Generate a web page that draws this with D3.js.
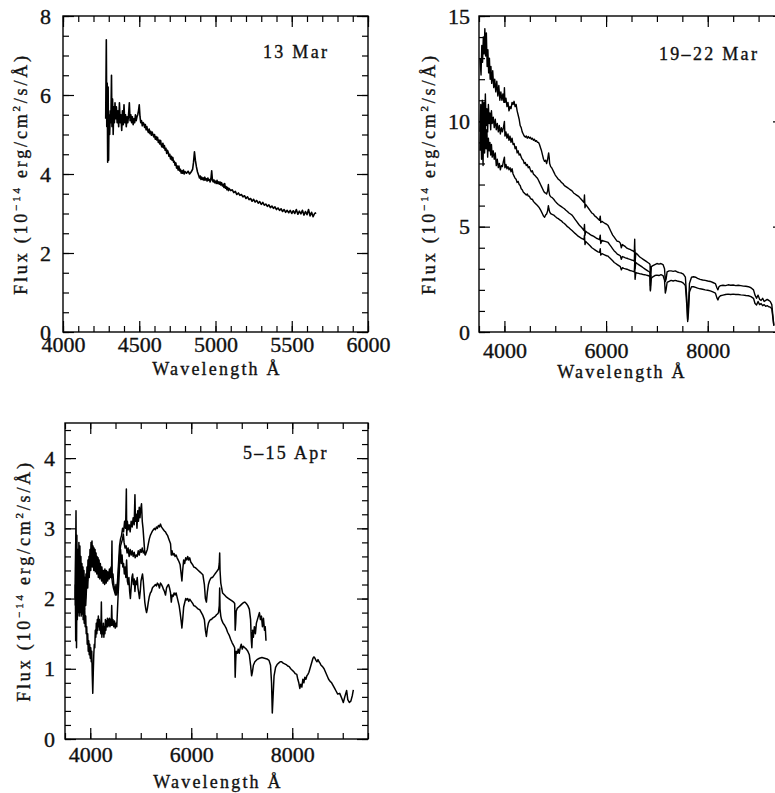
<!DOCTYPE html>
<html>
<head>
<meta charset="utf-8">
<script src="https://cdn.jsdelivr.net/npm/d3@7"></script>
<style>
html, body { margin: 0; padding: 0; background: #fff; }
svg { display: block; }
text { font-family: "Liberation Serif", "Times New Roman", serif; fill: #111; stroke: #111; stroke-width: 0.35px; }
</style>
</head>
<body>
<svg id="chart" width="775" height="793"></svg>
<script>
// spectra: [wavelength (Å), flux (1e-14 erg/cm2/s/Å)]

// 13 Mar
const mar13 = [
  [4280,5.4],[4284,7.4],[4287,5.2],[4290,6.3],[4293,4.3],[4296,6.2],[4299,4.35],[4302,5.5],[4306,5.0],[4310,5.6],
  [4314,5.3],[4318,6.5],[4321,5.2],[4325,5.9],[4329,5.0],[4333,5.7],[4337,5.3],[4341,5.8],[4345,5.4],[4350,5.7],
  [4355,5.3],[4360,5.6],[4365,5.2],[4370,5.8],[4375,5.3],[4380,5.5],[4385,5.1],[4390,5.6],[4395,5.25],[4400,5.75],
  [4405,5.3],[4410,5.5],[4415,5.2],[4420,5.45],[4425,5.3],[4430,5.5],[4435,5.8],[4440,5.35],[4445,5.5],[4450,5.3],
  [4455,5.45],[4460,5.25],[4465,5.4],[4470,5.3],[4475,5.5],[4480,5.35],[4485,5.45],[4490,5.5],[4495,5.6],[4500,5.75],
  [4505,5.45],[4510,5.3],[4515,5.35],[4520,5.22],[4525,5.3],[4530,5.28],[4535,5.18],[4540,5.25],[4545,5.12],[4550,5.2],
  [4555,5.1],[4560,5.05],[4565,5.14],[4570,5.02],[4575,5.08],[4580,4.98],[4585,5.06],[4590,5.0],[4595,4.94],[4600,5.0],
  [4605,4.88],[4610,4.95],[4615,4.86],[4620,4.93],[4625,4.8],[4630,4.86],[4635,4.76],[4640,4.85],[4645,4.72],[4650,4.68],
  [4655,4.78],[4660,4.66],[4665,4.72],[4670,4.6],[4675,4.65],[4680,4.52],[4685,4.6],[4690,4.55],[4695,4.45],[4700,4.5],
  [4705,4.38],[4710,4.45],[4715,4.35],[4720,4.42],[4725,4.3],[4730,4.32],[4735,4.22],[4740,4.28],[4745,4.15],[4750,4.2],
  [4755,4.1],[4760,4.2],[4765,4.08],[4770,4.12],[4775,4.02],[4780,4.08],[4785,4.02],[4790,4.1],[4795,4.0],[4800,4.06],
  [4810,4.02],[4820,4.07],[4830,4.0],[4840,4.05],[4850,4.12],[4856,4.3],[4862,4.56],[4868,4.35],[4875,4.18],[4882,4.05],
  [4890,3.96],[4895,3.9],[4900,3.95],[4905,3.86],[4910,3.92],[4915,3.86],[4920,3.9],[4925,3.84],[4930,3.92],[4935,3.85],
  [4940,3.88],[4945,3.82],[4950,3.9],[4955,3.84],[4960,3.86],[4965,3.8],[4970,3.88],[4975,4.08],[4980,3.84],[4985,3.8],
  [4990,3.85],[4995,3.78],[5000,3.82],[5005,3.76],[5010,3.84],[5015,3.76],[5020,3.8],[5025,3.74],[5030,3.8],[5035,3.72],
  [5040,3.78],[5045,3.7],[5050,3.74],[5055,3.66],[5060,3.76],[5065,3.64],[5070,3.68],[5075,3.6],[5080,3.66],[5085,3.58],
  [5090,3.63],[5100,3.58],[5110,3.6],[5120,3.53],[5130,3.56],[5140,3.48],[5150,3.52],[5160,3.46],[5170,3.48],[5180,3.42],
  [5190,3.45],[5200,3.38],[5210,3.42],[5220,3.35],[5230,3.38],[5240,3.31],[5250,3.36],[5260,3.29],[5270,3.33],[5280,3.26],
  [5290,3.3],[5300,3.23],[5310,3.28],[5320,3.21],[5330,3.24],[5340,3.18],[5350,3.22],[5360,3.15],[5370,3.19],[5380,3.13],
  [5390,3.17],[5400,3.1],[5410,3.14],[5420,3.08],[5430,3.12],[5440,3.05],[5450,3.1],[5460,3.03],[5470,3.08],[5480,3.02],
  [5490,3.08],[5500,3.0],[5510,3.07],[5520,3.0],[5530,3.1],[5540,2.98],[5550,3.06],[5560,2.99],[5570,3.08],[5580,2.96],
  [5590,3.05],[5600,2.97],[5610,3.1],[5620,2.94],[5630,3.03],[5640,2.92],[5650,3.0],[5660,3.02]
];

// 19-22 Mar (three spectra)
const mar19a = [
  [3520,13.0],[3540,12.2],[3555,13.6],[3570,12.8],[3585,14.0],[3600,13.2],[3615,14.4],[3630,13.1],[3645,14.2],[3660,12.6],
  [3675,13.4],[3690,12.3],[3705,13.0],[3720,12.0],[3735,12.6],[3750,11.8],[3770,12.4],[3790,11.6],[3810,12.0],[3830,11.4],
  [3850,11.9],[3870,11.2],[3890,11.7],[3910,11.0],[3930,11.4],[3950,11.0],[3970,11.3],[3990,10.9],[4000,11.6],[4010,10.9],
  [4030,11.1],[4050,10.7],[4070,10.9],[4090,10.5],[4110,10.7],[4130,10.6],[4150,10.9],[4170,10.8],[4190,10.95],[4210,10.7],
  [4230,10.8],[4250,10.5],[4270,10.3],[4290,10.1],[4310,9.8],[4330,9.7],[4350,9.5],[4370,9.4],[4390,9.3],[4410,9.25],
  [4430,9.3],[4450,9.2],[4470,9.28],[4490,9.2],[4510,9.25],[4530,9.15],[4550,9.2],[4570,9.1],[4590,9.15],[4610,9.05],
  [4630,9.08],[4650,9.0],[4670,9.0],[4690,8.9],[4710,8.75],[4730,8.6],[4750,8.4],[4770,8.2],[4790,8.1],[4810,8.15],
  [4830,8.0],[4850,8.2],[4870,8.5],[4880,8.3],[4890,8.0],[4910,7.85],[4930,7.8],[4950,7.7],[4970,7.6],[5000,7.45],
  [5030,7.35],[5060,7.25],[5090,7.2],[5120,7.1],[5150,7.05],[5180,6.95],[5210,6.9],[5240,6.85],[5270,6.8],[5300,6.75],
  [5330,6.7],[5360,6.6],[5390,6.55],[5420,6.5],[5450,6.45],[5480,6.38],[5510,6.3],[5540,6.22],[5565,6.15],[5575,6.5],
  [5585,5.9],[5600,6.05],[5630,5.95],[5660,5.85],[5690,5.75],[5720,5.65],[5750,5.6],[5780,5.5],[5810,5.45],[5840,5.38],
  [5870,5.3],[5885,5.5],[5895,5.2],[5920,5.25],[5950,5.2],[5980,5.15],[6010,5.12],[6040,5.05],[6070,4.9],[6100,4.75],
  [6130,4.6],[6160,4.5],[6190,4.4],[6220,4.3],[6250,4.3],[6280,4.22],[6300,4.0],[6320,4.15],[6350,4.1],[6380,4.05],
  [6410,3.98],[6440,3.95],[6470,3.92],[6500,3.88],[6530,3.85],[6555,3.8],[6563,4.4],[6570,3.3],[6585,3.75],[6610,3.7],
  [6640,3.62],[6670,3.55],[6700,3.5],[6730,3.45],[6760,3.4],[6790,3.35],[6820,3.3],[6850,3.25],[6865,3.2],[6872,2.0],
  [6880,2.6],[6890,3.1],[6920,3.15],[6960,3.2],[7000,3.25],[7040,3.22],[7080,3.25],[7120,3.2],[7150,3.0],[7165,2.4],
  [7180,2.5],[7200,2.85],[7240,2.9],[7280,2.9],[7320,2.88],[7360,2.9],[7400,2.85],[7440,2.82],[7480,2.8],[7520,2.75],
  [7560,2.6],[7590,1.5],[7605,0.6],[7620,1.2],[7640,2.3],[7680,2.6],[7720,2.62],[7760,2.6],[7800,2.55],[7850,2.5],
  [7900,2.47],[7950,2.45],[8000,2.42],[8050,2.4],[8100,2.35],[8150,2.3],[8180,2.1],[8200,2.0],[8220,2.15],[8250,2.2],
  [8300,2.22],[8350,2.2],[8400,2.24],[8450,2.22],[8500,2.23],[8550,2.2],[8600,2.22],[8650,2.2],[8700,2.18],[8750,2.17],
  [8800,2.15],[8850,2.1],[8900,2.0],[8930,1.75],[8960,1.6],[8990,1.75],[9020,1.55],[9050,1.5],[9080,1.6],[9110,1.45],
  [9140,1.5],[9170,1.55],[9200,1.5],[9230,1.45],[9260,1.3],[9280,0.8],[9300,0.3]
];
const mar19b = [
  [3520,9.5],[3535,10.8],[3550,9.2],[3565,11.0],[3580,9.6],[3595,10.9],[3610,9.4],[3625,11.3],[3640,9.8],[3655,10.6],
  [3670,9.5],[3685,10.8],[3700,9.9],[3715,10.4],[3730,9.6],[3745,10.5],[3760,9.9],[3780,10.2],[3800,9.7],[3820,10.1],
  [3840,9.6],[3860,9.9],[3880,9.5],[3900,9.8],[3920,9.4],[3940,9.7],[3960,9.5],[3980,9.7],[4000,10.0],[4010,9.3],
  [4030,9.5],[4050,9.2],[4070,9.4],[4090,9.1],[4110,9.3],[4130,9.0],[4150,9.2],[4170,8.9],[4190,8.95],[4210,8.7],
  [4230,8.8],[4250,8.5],[4270,8.6],[4290,8.4],[4310,8.45],[4330,8.3],[4350,8.2],[4370,8.15],[4390,8.0],[4410,8.05],
  [4430,7.9],[4450,7.95],[4470,7.8],[4490,7.85],[4510,7.7],[4530,7.6],[4550,7.65],[4570,7.5],[4590,7.45],[4610,7.4],
  [4630,7.35],[4650,7.3],[4670,7.2],[4690,7.1],[4710,7.0],[4730,6.9],[4750,6.8],[4770,6.7],[4790,6.62],[4810,6.6],
  [4830,6.55],[4850,6.7],[4865,7.0],[4875,6.7],[4890,6.5],[4910,6.42],[4940,6.38],[4970,6.3],[5000,6.2],[5030,6.12],
  [5060,6.05],[5090,6.0],[5120,5.95],[5150,5.9],[5180,5.85],[5210,5.78],[5240,5.72],[5270,5.65],[5300,5.6],[5330,5.55],
  [5360,5.45],[5390,5.35],[5420,5.25],[5450,5.15],[5480,5.05],[5510,4.98],[5540,4.9],[5565,4.82],[5575,5.1],[5585,4.6],
  [5600,4.78],[5630,4.72],[5660,4.68],[5690,4.62],[5720,4.58],[5750,4.55],[5780,4.5],[5810,4.45],[5840,4.42],[5870,4.38],
  [5885,4.6],[5895,4.2],[5920,4.35],[5950,4.32],[5980,4.3],[6010,4.28],[6040,4.25],[6070,4.15],[6100,4.05],[6130,3.95],
  [6160,3.85],[6190,3.78],[6220,3.7],[6250,3.66],[6280,3.62],[6300,3.45],[6320,3.58],[6350,3.55],[6380,3.52],[6410,3.5],
  [6440,3.47],[6470,3.45],[6500,3.42],[6530,3.4],[6555,3.37],[6563,3.9],[6570,3.0],[6585,3.3],[6610,3.25],[6640,3.2],
  [6670,3.15],[6700,3.1],[6730,3.05],[6760,3.0],[6790,2.95],[6820,2.9],[6850,2.86],[6865,2.8],[6872,2.2],[6880,2.7]
];
const mar19c = [
  [3520,8.6],[3535,10.0],[3550,8.2],[3565,9.6],[3580,7.9],[3595,10.4],[3610,8.5],[3625,9.8],[3640,8.7],[3655,9.6],
  [3670,8.3],[3685,9.2],[3700,8.6],[3715,9.0],[3730,8.4],[3745,8.9],[3760,8.3],[3780,8.6],[3800,8.2],[3820,8.5],
  [3840,7.9],[3860,8.2],[3880,7.8],[3900,8.0],[3920,7.7],[3940,7.9],[3960,7.85],[3980,8.1],[4000,8.3],[4010,7.8],
  [4030,7.95],[4050,7.75],[4070,7.85],[4090,7.7],[4110,7.8],[4130,7.6],[4150,7.75],[4170,7.5],[4190,7.4],[4210,7.3],
  [4230,7.25],[4250,7.1],[4270,7.15],[4290,7.0],[4310,6.95],[4330,6.8],[4350,6.75],[4370,6.65],[4390,6.6],[4410,6.55],
  [4430,6.5],[4450,6.55],[4470,6.45],[4490,6.45],[4510,6.35],[4530,6.3],[4550,6.3],[4570,6.2],[4590,6.15],[4610,6.1],
  [4630,6.05],[4650,6.0],[4670,5.95],[4690,5.88],[4710,5.8],[4730,5.7],[4750,5.6],[4770,5.5],[4790,5.45],[4810,5.55],
  [4830,5.6],[4850,5.75],[4865,6.0],[4875,5.85],[4890,5.7],[4910,5.62],[4940,5.58],[4970,5.55],[5000,5.48],[5030,5.42],
  [5060,5.38],[5090,5.32],[5120,5.28],[5150,5.2],[5180,5.15],[5210,5.08],[5240,5.0],[5270,4.95],[5300,4.88],[5330,4.82],
  [5360,4.75],[5390,4.68],[5420,4.62],[5450,4.55],[5480,4.5],[5510,4.45],[5540,4.42],[5565,4.38],[5575,4.6],[5585,4.15],
  [5600,4.3],[5630,4.22],[5660,4.15],[5690,4.08],[5720,4.0],[5750,3.95],[5780,3.9],[5810,3.85],[5840,3.8],[5870,3.78],
  [5885,3.95],[5895,3.65],[5920,3.72],[5950,3.68],[5980,3.65],[6010,3.62],[6040,3.6],[6070,3.52],[6100,3.45],[6130,3.38],
  [6160,3.3],[6190,3.25],[6220,3.2],[6250,3.15],[6280,3.1],[6300,2.95],[6320,3.05],[6350,3.02],[6380,3.0],[6410,2.98],
  [6440,2.95],[6470,2.92],[6500,2.9],[6530,2.88],[6555,2.85],[6563,3.3],[6570,2.5],[6585,2.82],[6610,2.8],[6640,2.78],
  [6670,2.76],[6700,2.75],[6730,2.73],[6760,2.72],[6790,2.7],[6820,2.68],[6850,2.66],[6865,2.62],[6872,1.95],[6880,2.3],
  [6890,2.55],[6920,2.62],[6960,2.68],[7000,2.7],[7040,2.68],[7080,2.72],[7120,2.68],[7150,2.45],[7165,1.85],[7180,2.0],
  [7200,2.35],[7240,2.4],[7280,2.45],[7320,2.42],[7360,2.45],[7400,2.42],[7440,2.4],[7480,2.38],[7520,2.32],[7560,2.2],
  [7590,1.2],[7605,0.5],[7620,0.9],[7640,1.9],[7680,2.15],[7720,2.15],[7760,2.12],[7800,2.08],[7850,2.05],[7900,2.03],
  [7950,2.0],[8000,1.98],[8050,1.95],[8100,1.9],[8150,1.85],[8180,1.62],[8200,1.52],[8220,1.65],[8250,1.72],[8300,1.75],
  [8350,1.78],[8400,1.8],[8450,1.78],[8500,1.8],[8550,1.78],[8600,1.78],[8650,1.76],[8700,1.75],[8750,1.73],[8800,1.72],
  [8850,1.68],[8900,1.6],[8930,1.35],[8960,1.28],[8990,1.45],[9020,1.3],[9050,1.35],[9080,1.25],[9110,1.3],[9140,1.22],
  [9170,1.25],[9200,1.2],[9230,1.18],[9260,1.1],[9280,0.7],[9300,0.3]
];

// 5-15 Apr (three spectra)
const apr5a = [
  [3700,2.0],[3710,2.6],[3718,3.25],[3725,2.2],[3735,2.9],[3745,1.9],[3755,2.7],[3765,2.0],[3775,2.8],[3785,2.1],
  [3795,2.75],[3805,2.2],[3815,2.6],[3825,2.05],[3835,2.5],[3845,2.1],[3855,2.45],[3865,1.95],[3875,2.4],[3885,2.1],
  [3895,2.3],[3905,2.0],[3915,2.35],[3925,2.2],[3935,2.45],[3945,2.25],[3955,2.55],[3965,2.3],[3975,2.6],[3985,2.4],
  [3995,2.7],[4005,2.45],[4015,2.8],[4025,2.5],[4035,2.82],[4045,2.55],[4055,2.75],[4065,2.5],[4075,2.72],[4085,2.48],
  [4095,2.7],[4105,2.45],[4115,2.65],[4125,2.42],[4135,2.6],[4145,2.4],[4155,2.58],[4165,2.38],[4175,2.55],[4185,2.35],
  [4200,2.5],[4215,2.3],[4230,2.45],[4245,2.32],[4260,2.4],[4275,2.3],[4290,2.42],[4305,2.28],[4320,2.4],[4335,2.3],
  [4350,2.38],[4365,2.32],[4380,2.42],[4395,2.35],[4410,2.45],[4420,2.3],[4430,2.82],[4435,2.3],[4450,2.35],[4465,2.2],
  [4480,2.15],[4495,2.1],[4510,2.2],[4525,2.05],[4540,2.1],[4555,2.3],[4570,2.55],[4585,2.65],[4600,2.75],[4620,2.8],
  [4640,2.85],[4655,2.92],[4670,2.8],[4690,2.72],[4710,2.75],[4730,2.65],[4750,2.72],[4770,2.6],[4790,2.7],[4810,2.62],
  [4830,2.68],[4850,2.6],[4870,2.66],[4890,2.58],[4910,2.62],[4930,2.6],[4950,2.68],[4970,2.62],[4990,2.7],[5010,2.66],
  [5030,2.72],[5050,2.65],[5070,2.68],[5090,2.62],[5110,2.66],[5130,2.7],[5150,2.78],[5170,2.85],[5190,2.9],[5210,2.93],
  [5230,2.96],[5250,2.98],[5270,3.0],[5290,2.98],[5310,3.02],[5330,3.0],[5350,3.04],[5370,3.02],[5390,3.06],[5410,3.02],
  [5430,3.0],[5450,2.98],[5470,2.96],[5490,2.95],[5510,2.92],[5530,2.9],[5550,2.86],[5570,2.82],[5590,2.78],[5605,2.62],
  [5620,2.68],[5640,2.62],[5660,2.64],[5680,2.6],[5700,2.62],[5720,2.58],[5740,2.55],[5760,2.52],[5780,2.48],[5800,2.35],
  [5815,2.25],[5830,2.4],[5850,2.55],[5870,2.5],[5890,2.58],[5910,2.55],[5930,2.6],[5950,2.55],[5970,2.58],[5990,2.52],
  [6010,2.5],[6030,2.48],[6050,2.45],[6080,2.44],[6110,2.42],[6140,2.4],[6170,2.38],[6200,2.36],[6230,2.34],[6260,2.2],
  [6280,2.0],[6300,1.95],[6320,2.1],[6340,2.2],[6360,2.25],[6380,2.28],[6400,2.3],[6420,2.3],[6440,2.32],[6460,2.34],
  [6480,2.36],[6500,2.38],[6520,2.4],[6540,2.42],[6555,2.5],[6563,2.65],[6570,2.4],[6585,2.22],[6620,2.08],[6660,2.05],
  [6700,2.02],[6740,2.0],[6800,1.97],[6840,1.95],[6860,1.93],[6870,1.55],[6880,1.65],[6890,1.82],[6910,1.86],[6940,1.88],
  [6970,1.9],[7000,1.92],[7030,1.94],[7060,1.95],[7090,1.93],[7120,1.9],[7150,1.85],[7175,1.7],[7190,1.4],[7200,1.3],
  [7215,1.55],[7230,1.45],[7250,1.6],[7270,1.5],[7290,1.65],[7310,1.7],[7330,1.75],[7350,1.8],[7370,1.7],[7390,1.75],
  [7410,1.6],[7430,1.72],[7450,1.55],[7465,1.6],[7480,1.4]
];
const apr5b = [
  [3705,1.9],[3712,2.8],[3720,1.5],[3728,2.5],[3736,1.75],[3744,2.6],[3752,1.8],[3760,2.45],[3770,1.9],[3780,2.4],
  [3790,1.85],[3800,2.3],[3810,1.95],[3820,2.35],[3830,1.9],[3840,2.2],[3850,1.8],[3860,2.25],[3870,1.9],[3880,2.15],
  [3890,1.85],[3900,2.1],[3910,1.9],[3920,2.05],[3935,2.3],[3950,2.15],[3965,2.45],[3980,2.3],[3995,2.6],[4010,2.4],
  [4025,2.7],[4040,2.45],[4055,2.68],[4070,2.4],[4085,2.62],[4100,2.38],[4115,2.58],[4130,2.35],[4145,2.52],[4160,2.3],
  [4175,2.5],[4190,2.28],[4210,2.45],[4225,2.25],[4240,2.4],[4255,2.22],[4270,2.36],[4285,2.2],[4300,2.35],[4315,2.22],
  [4330,2.32],[4345,2.25],[4360,2.34],[4375,2.28],[4390,2.38],[4405,2.3],[4420,2.35],[4440,2.22],[4460,2.15],[4480,2.1],
  [4500,2.05],[4520,2.1],[4540,2.25],[4560,2.5],[4580,2.75],[4600,2.85],[4620,2.9],[4640,3.0],[4660,2.95],[4680,3.1],
  [4700,3.0],[4715,3.56],[4722,2.9],[4735,3.1],[4750,2.98],[4770,3.05],[4790,2.95],[4810,3.1],[4830,3.02],[4850,3.15],
  [4870,3.05],[4885,3.48],[4895,3.1],[4910,3.2],[4925,3.0],[4940,3.25],[4955,3.1],[4970,3.3],[4985,3.15],[5000,3.28],
  [5015,3.35],[5030,3.1],[5045,3.0],[5060,2.85],[5075,2.7],[5090,2.62]
];
const apr5c = [
  [3705,2.2],[3712,1.4],[3720,2.4],[3728,1.3],[3736,2.1],[3744,1.7],[3752,2.3],[3760,1.8],[3770,2.2],[3780,1.75],
  [3790,2.1],[3800,1.8],[3810,2.05],[3820,1.75],[3830,2.0],[3840,1.78],[3850,1.95],[3860,1.7],[3870,1.9],[3880,1.65],
  [3890,1.85],[3900,1.6],[3910,1.75],[3920,1.5],[3930,1.6],[3940,1.35],[3950,1.5],[3960,1.25],[3970,1.4],[3980,1.2],
  [3990,1.35],[4000,1.15],[4010,1.3],[4020,1.1],[4030,1.25],[4040,0.9],[4050,0.65],[4060,0.95],[4070,1.2],[4080,1.35],
  [4090,1.3],[4100,1.55],[4110,1.45],[4120,1.65],[4130,1.5],[4140,1.7],[4150,1.55],[4160,1.75],[4170,1.6],[4180,1.7],
  [4190,1.55],[4200,1.65],[4210,1.5],[4220,1.95],[4230,1.45],[4240,1.6],[4250,1.5],[4260,1.65],[4270,1.45],[4280,1.6],
  [4290,1.5],[4300,1.7],[4310,1.55],[4320,1.68],[4330,1.6],[4340,1.72],[4350,1.6],[4360,1.7],[4370,1.62],[4380,1.72],
  [4390,1.6],[4400,1.7],[4415,1.62],[4425,1.9],[4435,1.62],[4450,1.7],[4465,1.6],[4480,1.68],[4495,1.58],[4510,1.65],
  [4525,1.6],[4540,1.85],[4555,2.1],[4570,2.3],[4585,2.55],[4600,2.7],[4615,2.5],[4630,2.62],[4645,2.45],[4660,2.5],
  [4675,2.35],[4690,2.45],[4705,2.3],[4720,2.55],[4735,2.25],[4750,2.2],[4765,2.3],[4780,2.1],[4795,2.0],[4810,2.15],
  [4825,2.3],[4840,2.35],[4855,2.2],[4870,2.28],[4885,2.1],[4900,2.25],[4915,2.2],[4930,2.3],[4945,2.15],[4960,2.08],
  [4975,2.0],[4990,2.1],[5005,2.25],[5020,2.3],[5035,2.35],[5050,2.25],[5065,2.1],[5080,1.95],[5100,1.85],[5115,1.8],
  [5130,1.85],[5150,1.95],[5170,2.03],[5190,2.08],[5210,2.1],[5230,2.15],[5250,2.17],[5270,2.18],[5290,2.2],[5310,2.18],
  [5330,2.22],[5350,2.2],[5370,2.15],[5390,2.22],[5410,2.2],[5430,2.17],[5450,2.13],[5470,2.1],[5490,2.05],[5510,2.15],
  [5530,2.18],[5550,2.2],[5570,2.15],[5590,2.08],[5605,1.95],[5620,2.05],[5640,2.03],[5660,2.08],[5680,2.05],[5700,2.08],
  [5720,2.02],[5740,1.96],[5760,1.9],[5780,1.8],[5800,1.68],[5815,1.58],[5830,1.7],[5850,1.88],[5870,1.94],[5890,2.0],
  [5910,1.98],[5930,2.0],[5950,1.96],[5970,1.99],[5990,1.97],[6010,1.95],[6030,1.93],[6050,1.9],[6080,1.89],[6110,1.87],
  [6140,1.85],[6170,1.84],[6200,1.8],[6230,1.76],[6260,1.7],[6280,1.55],[6300,1.46],[6320,1.58],[6340,1.65],[6360,1.68],
  [6380,1.7],[6400,1.7],[6420,1.72],[6440,1.73],[6460,1.74],[6480,1.75],[6500,1.77],[6520,1.78],[6540,1.8],[6555,1.9],
  [6563,2.15],[6570,1.85],[6585,1.75],[6600,1.7],[6630,1.65],[6660,1.62],[6690,1.58],[6720,1.52],[6750,1.48],[6780,1.42],
  [6810,1.37],[6840,1.33],[6860,1.3],[6870,0.88],[6880,1.1],[6890,1.25],[6910,1.22],[6930,1.28],[6950,1.22],[6970,1.3],
  [6990,1.35],[7010,1.28],[7030,1.32],[7060,1.3],[7090,1.28],[7120,1.25],[7150,1.2],[7175,1.05],[7195,0.9],[7210,0.95],
  [7230,1.05],[7260,1.1],[7300,1.13],[7350,1.15],[7400,1.16],[7450,1.15],[7500,1.14],[7540,1.12],[7570,1.05],[7590,0.8],
  [7605,0.37],[7620,0.6],[7640,0.9],[7670,1.02],[7700,1.06],[7730,1.08],[7760,1.1],[7790,1.1],[7820,1.08],[7850,1.07],
  [7880,1.06],[7910,1.04],[7940,1.03],[7970,1.0],[8000,0.98],[8030,0.96],[8060,0.93],[8090,0.92],[8110,0.85],[8130,0.8],
  [8150,0.72],[8170,0.78],[8190,0.74],[8210,0.85],[8230,0.8],[8250,0.88],[8270,0.85],[8290,0.9],[8310,0.92],[8330,0.95],
  [8350,1.0],[8370,1.05],[8390,1.1],[8410,1.15],[8430,1.17],[8450,1.15],[8470,1.12],[8490,1.1],[8510,1.13],[8530,1.1],
  [8550,1.08],[8570,1.05],[8600,1.03],[8630,1.0],[8660,0.95],[8690,0.9],[8720,0.85],[8750,0.82],[8780,0.8],[8810,0.76],
  [8840,0.72],[8870,0.68],[8900,0.64],[8940,0.65],[8980,0.58],[9011,0.52],[9040,0.6],[9077,0.69],[9100,0.56],[9130,0.52],
  [9160,0.54],[9190,0.62],[9210,0.7]
];

// tick labels
const mar13XTicks = [4000, 4500, 5000, 5500, 6000];
const mar13YTicks = [0, 2, 4, 6, 8];
const mar19XTicks = [4000, 6000, 8000];
const mar19YTicks = [0, 5, 10, 15];
const apr5XTicks = [4000, 6000, 8000];
const apr5YTicks = [0, 1, 2, 3, 4];

const panels = [
  {
    left: 63, right: 368, top: 16, bottom: 332,
    xDomain: [4000, 6000], yDomain: [0, 8],
    xTicks: mar13XTicks, yTicks: mar13YTicks,
    xMinor: d3.range(4000, 6001, 100), yMinor: d3.range(0, 8.01, 0.5),
    xPad: 4, yPad: 12, xTitleX: 217, xTitleDy: 43, yTitleDx: 36,
    label: "13 Mar", labelAt: [5311, 6.94], lineWidth: 1.6,
    series: [mar13]
  },
  {
    left: 479, right: 784, top: 16, bottom: 332,
    xDomain: [3500, 9500], yDomain: [0, 15],
    xTicks: mar19XTicks, yTicks: mar19YTicks,
    xMinor: d3.range(3500, 9501, 500), yMinor: d3.range(0, 15.01, 1),
    xPad: 10, yPad: 9, xTitleX: 622, xTitleDy: 46, yTitleDx: 44,
    label: "19\u201322 Mar", labelAt: [7041, 12.9], lineWidth: 1.4,
    series: [mar19a, mar19b, mar19c]
  },
  {
    left: 65, right: 368, top: 423, bottom: 739,
    xDomain: [3500, 9500], yDomain: [0, 4.5],
    xTicks: apr5XTicks, yTicks: apr5YTicks,
    xMinor: d3.range(3500, 9501, 500), yMinor: d3.range(0, 4.51, 0.2),
    xPad: 7.5, yPad: 10, xTitleX: 218, xTitleDy: 49, yTitleDx: 35,
    label: "5\u201315 Apr", labelAt: [7024, 3.99], lineWidth: 1.5,
    series: [apr5a, apr5b, apr5c]
  }
];

const svg = d3.select("#chart");

function addAxis(g, axis, transform) {
  const a = g.append("g").attr("transform", transform).call(axis);
  a.select(".domain").remove();
  a.selectAll(".tick line").attr("stroke", "#000").attr("stroke-width", 1.2);
  a.selectAll("text").attr("font-size", 22).attr("fill", "#111");
  return a;
}

function drawPanel(p) {
  const x = d3.scaleLinear().domain(p.xDomain).range([p.left, p.right]);
  const y = d3.scaleLinear().domain(p.yDomain).range([p.bottom, p.top]);
  const g = svg.append("g");

  // spectra
  const line = d3.line().x(d => x(d[0])).y(d => y(d[1]));
  p.series.forEach(s => {
    g.append("path").datum(s)
      .attr("d", line)
      .attr("fill", "none")
      .attr("stroke", "#000")
      .attr("stroke-width", p.lineWidth)
      .attr("stroke-linejoin", "round");
  });

  // minor ticks, all four sides, pointing inward
  const none = () => "";
  addAxis(g, d3.axisBottom(x).tickValues(p.xMinor).tickSize(-6).tickFormat(none), `translate(0,${p.bottom})`);
  addAxis(g, d3.axisTop(x).tickValues(p.xMinor).tickSize(-6).tickFormat(none), `translate(0,${p.top})`);
  addAxis(g, d3.axisLeft(y).tickValues(p.yMinor).tickSize(-6).tickFormat(none), `translate(${p.left},0)`);
  addAxis(g, d3.axisRight(y).tickValues(p.yMinor).tickSize(-6).tickFormat(none), `translate(${p.right},0)`);

  // major ticks with labels on bottom and left
  addAxis(g, d3.axisBottom(x).tickValues(p.xTicks).tickSize(-11).tickPadding(p.xPad).tickFormat(d3.format("d")),
    `translate(0,${p.bottom})`);
  addAxis(g, d3.axisLeft(y).tickValues(p.yTicks).tickSize(-11).tickPadding(p.yPad).tickFormat(d3.format("d")),
    `translate(${p.left},0)`);
  addAxis(g, d3.axisTop(x).tickValues(p.xTicks).tickSize(-11).tickFormat(none), `translate(0,${p.top})`);
  addAxis(g, d3.axisRight(y).tickValues(p.yTicks).tickSize(-11).tickFormat(none), `translate(${p.right},0)`);

  // frame
  g.append("rect")
    .attr("x", p.left).attr("y", p.top)
    .attr("width", p.right - p.left).attr("height", p.bottom - p.top)
    .attr("fill", "none").attr("stroke", "#000").attr("stroke-width", 1.4);

  // date label
  g.append("text")
    .attr("x", x(p.labelAt[0])).attr("y", y(p.labelAt[1]))
    .attr("font-size", 18).attr("letter-spacing", 2.3)
    .text(p.label);

  // axis titles
  g.append("text")
    .attr("x", p.xTitleX).attr("y", p.bottom + p.xTitleDy)
    .attr("text-anchor", "middle")
    .attr("font-size", 18).attr("letter-spacing", 2.2)
    .text("Wavelength \u00C5");

  const yt = g.append("text")
    .attr("transform", `translate(${p.left - p.yTitleDx},${(p.top + p.bottom) / 2}) rotate(-90)`)
    .attr("text-anchor", "middle")
    .attr("font-size", 18).attr("letter-spacing", 2.8);
  yt.append("tspan").text("Flux (10");
  yt.append("tspan").attr("font-size", 11).attr("dy", -7).text("\u221214");
  yt.append("tspan").attr("dy", 7).text(" erg/cm");
  yt.append("tspan").attr("font-size", 11).attr("dy", -7).text("2");
  yt.append("tspan").attr("dy", 7).text("/s/\u00C5)");
}

panels.forEach(drawPanel);
</script>
</body>
</html>
